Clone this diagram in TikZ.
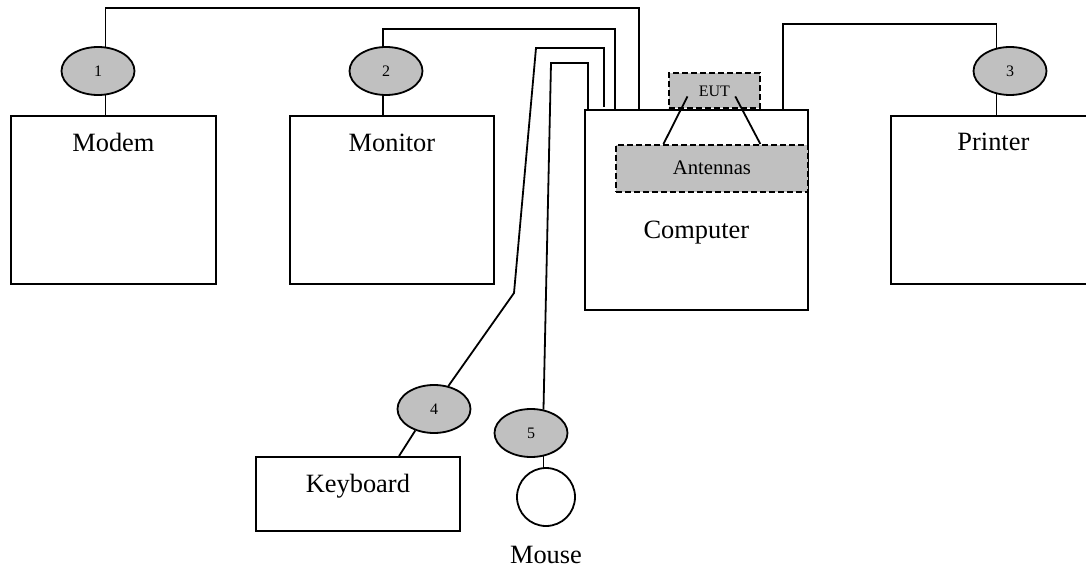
\documentclass[tikz,border=0pt]{standalone}
\usepackage{fontspec}
\setmainfont{Liberation Serif}
\usetikzlibrary{calc}
\usetikzlibrary{shapes.geometric}
\definecolor{tagGray}{HTML}{C0C0C0}

\tikzset{
    unit/.style={draw, rectangle, inner sep=0pt, anchor=north west},
    tag/.style={draw, ellipse, fill=tagGray, inner sep=0pt, minimum width=73pt, minimum height=48pt, font=\fontsize{16}{18}\selectfont},
    dashbox/.style={draw, rectangle, dash pattern=on 6pt off 3pt, fill=tagGray, inner sep=0pt, anchor=north west},
    bigtext/.style={anchor=base, inner sep=0pt, font=\fontsize{26.4}{30}\selectfont}
}

\begin{document}
\begin{tikzpicture}[x=1pt, y=-1pt, line width=1.8pt]
    \useasboundingbox (0,0) rectangle (1086,569);

    \node[unit, minimum width=205pt, minimum height=168pt] (modem) at (10,115) {};
    \node[unit, minimum width=204pt, minimum height=168pt] (monitor) at (289,115) {};
    \node[unit, minimum width=223pt, minimum height=200pt] (computer) at (584,109) {};
    \node[unit, minimum width=205pt, minimum height=168pt] (printer) at (890,115) {};
    \node[unit, minimum width=204pt, minimum height=74pt] (keyboard) at (255,456) {};
    \node[draw, circle, inner sep=0pt, minimum size=58pt] (mouse) at (546,497) {};

    \node[dashbox, minimum width=192pt, minimum height=47pt] (antennas) at (615,144) {};
    \node[dashbox, minimum width=91pt, minimum height=35pt] (eut) at (668,72) {};

    \node[bigtext] at ($(modem.north)+(0,37)$) {Modem};
    \node[bigtext] at ($(monitor.north)+(0,37)$) {Monitor};
    \node[bigtext] at ($(printer.north)+(0,36)$) {Printer};
    \node[bigtext] at ($(computer.north)+(0,130)$) {Computer};
    \node[bigtext] at ($(keyboard.north)+(0,36)$) {Keyboard};
    \node[bigtext] at ($(mouse.south)+(0,37)$) {Mouse};
    \node[anchor=base, inner sep=0pt, font=\fontsize{20.7}{24}\selectfont] at ($(antennas.north)+(0,31)$) {Antennas};
    \node[anchor=base, inner sep=0pt, font=\fontsize{16}{18}\selectfont] at ($(eut.north)+(0,25)$) {EUT};

    \node[tag] (t1) at (98,71) {1};
    \node[tag] (t2) at (386,71) {2};
    \node[tag] (t3) at (1010,71) {3};
    \node[tag] (t4) at (434,409) {4};
    \node[tag] (t5) at (531,433) {5};

    % cable bends
    \coordinate (b1) at (639,8);
    \coordinate (b2) at (615,29);
    \coordinate (b3) at (783,24);
    \coordinate (k1) at (604,48);
    \coordinate (k2) at (536,48);
    \coordinate (k3) at (514,293);
    \coordinate (m1) at (588,63);
    \coordinate (m2) at (551,63);

    \draw (t1.73) |- (b1) -- (b1 |- computer.north);
    \draw (t1.287) -- (t1.287 |- modem.north);
    \draw (t2.97) |- (b2) -- (b2 |- computer.north);
    \draw (t2.263) -- (t2.263 |- monitor.north);
    \draw (b3 |- computer.north) -- (b3) -| (t3.120);
    \draw (t3.240) -- (t3.240 |- printer.north);
    \draw ([yshift=2pt]k1 |- computer.north) -- (k1) -- (k2) -- (k3) -- (t4.58);
    \draw (t4.229) -- ($(keyboard.north west)!0.7!(keyboard.north east)$);
    \draw (m1 |- computer.north) -- (m1) -- (m2) -- (t5.62);
    \draw (t5.298) -- (t5.298 |- mouse.north);

    \draw ($(eut.west)!0.21!(eut.east)+(0,6)$) -- ($(antennas.north west)!0.25!(antennas.north east)$);
    \draw ($(eut.west)!0.725!(eut.east)+(0,6)$) -- ($(antennas.north west)!0.75!(antennas.north east)$);
\end{tikzpicture}
\end{document}
